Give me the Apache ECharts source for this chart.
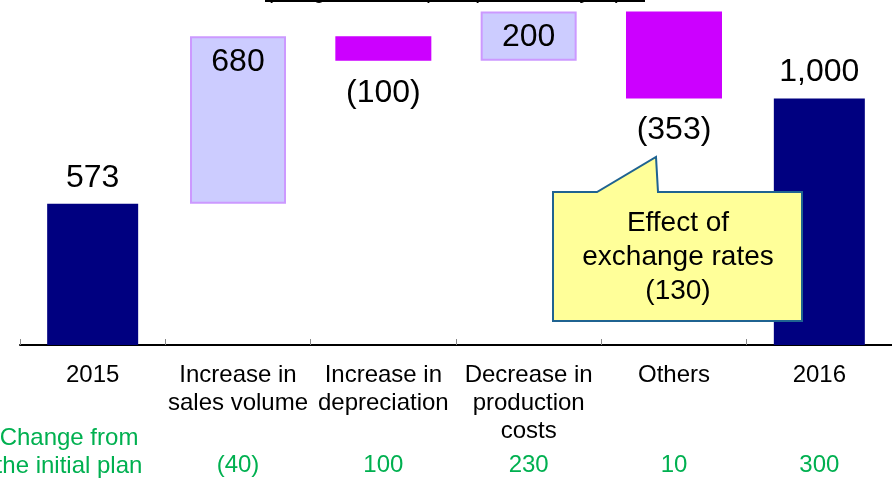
<!DOCTYPE html>
<html>
<head>
<meta charset="utf-8">
<script src="https://cdn.jsdelivr.net/npm/echarts@6/dist/echarts.min.js"></script>
<style>
  html, body { margin: 0; padding: 0; background: #fff; }
  #chart { width: 892px; height: 478px; }
</style>
</head>
<body>
<div id="chart"></div>
<script>
// Operating income bridge, 2015 -> 2016 (billions of yen)
const categories = ['2015', 'Increase in\nsales volume', 'Increase in\ndepreciation',
                    'Decrease in\nproduction\ncosts', 'Others', '2016'];
// step values; first and last are totals
const stepValues = [573, 680, -100, 200, -353, 1000];
const isTotal = [true, false, false, false, false, true];
// change from the initial plan, per category
const planChanges = [null, -40, 100, 230, 10, 300];

const FONT = "'Liberation Sans', Arial, sans-serif";

function fmt(v) {
  if (v === null || v === undefined) return '';
  const s = Math.abs(v).toLocaleString('en-US');
  return v < 0 ? '(' + s + ')' : s;
}

// waterfall pieces: invisible base + visible step, totals kept apart
const baseData = [];
const stepData = [];
const totalData = [];
let running = 0;
stepValues.forEach((v, i) => {
  const lbl = { show: true, formatter: fmt(v) };
  if (isTotal[i]) {
    running = v;
    baseData.push(null);
    stepData.push(null);
    totalData.push({ value: v, label: Object.assign(lbl, { position: 'top', distance: 10 }) });
    return;
  }
  totalData.push(null);
  if (v >= 0) {
    baseData.push(running);
    running += v;
    stepData.push({
      value: v,
      itemStyle: { color: '#CCCCFF', borderColor: '#CC99FF', borderWidth: 2 },
      label: Object.assign(lbl, { position: 'insideTop', distance: 10 })
    });
  } else {
    running += v;
    baseData.push(running);
    stepData.push({
      value: -v,
      itemStyle: { color: '#CC00FF', borderColor: '#CC00FF', borderWidth: 2 },
      label: Object.assign(lbl, { position: 'bottom', distance: 16 })
    });
  }
});

const valueLabel = { color: '#000', fontFamily: FONT, fontSize: 32 };

const chart = echarts.init(document.getElementById('chart'));
chart.setOption({
  animation: false,
  backgroundColor: '#ffffff',
  grid: { left: 20, right: 0, top: 0, bottom: 133 },
  xAxis: [
    {
      type: 'category',
      data: categories,
      position: 'bottom',
      axisLine: { lineStyle: { color: '#000', width: 2 } },
      axisTick: { show: true, inside: true, length: 6, lineStyle: { color: '#888', width: 1 } },
      axisLabel: { interval: 0, margin: 16, color: '#000', fontFamily: FONT, fontSize: 24, lineHeight: 28 }
    },
    {
      type: 'category',
      data: planChanges.map(fmt),
      position: 'bottom',
      offset: 100,
      axisLine: { show: false },
      axisTick: { show: false },
      axisLabel: { interval: 0, margin: 8, color: '#00B050', fontFamily: FONT, fontSize: 24 }
    }
  ],
  yAxis: { type: 'value', min: 0, max: 1400, show: false, splitLine: { show: false } },
  series: [
    {
      type: 'bar', stack: 'wf', xAxisIndex: 0, data: baseData, barWidth: 96,
      itemStyle: { color: 'transparent' }, silent: true
    },
    {
      type: 'bar', stack: 'wf', xAxisIndex: 0, data: stepData, barWidth: 96,
      label: valueLabel
    },
    {
      type: 'bar', xAxisIndex: 1, data: totalData, barWidth: 91,
      itemStyle: { color: '#000080' },
      label: valueLabel
    }
  ],
  graphic: [
    // heading, mostly above the visible area
    { type: 'text', x: 350, y: 2.5, style: { text: '(Rough estimate)', font: '22px ' + FONT, fill: '#000', textAlign: 'center', textVerticalAlign: 'bottom' } },
    { type: 'text', x: 547, y: 2.5, style: { text: '(Billions of yen)', font: '22px ' + FONT, fill: '#000', textAlign: 'center', textVerticalAlign: 'bottom' } },
    { type: 'line', shape: { x1: 265, y1: 1, x2: 645, y2: 1 }, style: { stroke: '#000', lineWidth: 2 } },
    // row caption for the plan changes
    { type: 'text', x: 69, y: 452, style: { text: 'Change from\nthe initial plan', font: '24px ' + FONT, fill: '#00B050', textAlign: 'center', textVerticalAlign: 'middle', lineHeight: 28 }, z: 10 },
    // callout
    {
      type: 'polygon', z: 20,
      shape: { points: [[553, 192], [597, 192], [656, 157], [658, 192], [802, 192], [802, 321], [553, 321]] },
      style: { fill: '#FFFF99', stroke: '#1F6391', lineWidth: 2 }
    },
    { type: 'text', z: 21, x: 678, y: 257, style: { text: 'Effect of\nexchange rates\n(130)', font: '28px ' + FONT, fill: '#000', textAlign: 'center', textVerticalAlign: 'middle', lineHeight: 34 } }
  ]
});
</script>
</body>
</html>
